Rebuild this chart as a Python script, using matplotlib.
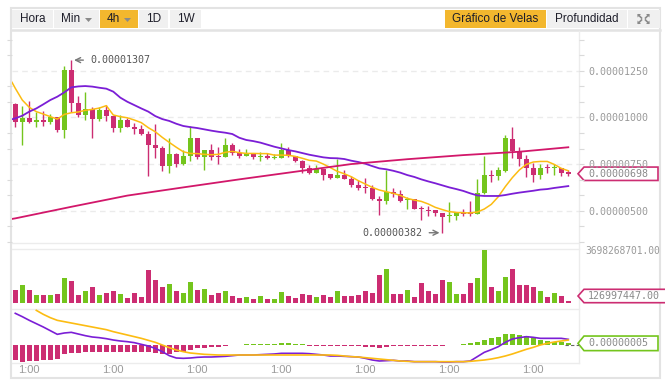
import matplotlib
matplotlib.use("Agg")
import matplotlib.pyplot as plt
from matplotlib.patches import Rectangle, Polygon
from matplotlib.ticker import FixedLocator, MultipleLocator, FuncFormatter
import numpy as np

plt.rcParams['font.family'] = ['Liberation Sans', 'DejaVu Sans']

# 4h candles, prices in units of 1e-8
opens = [1072, 977, 997, 977, 986, 977, 1002, 932, 1254, 1079,
         1013, 1045, 991, 1040, 1009, 945, 986, 950, 940, 909,
         852, 836, 741, 804, 752, 793, 890, 790, 825, 795,
         790, 852, 811, 793, 809, 790, 793, 782, 784, 825,
         793, 768, 731, 704, 723, 697, 675, 691, 672, 639,
         627, 620, 563, 550, 598, 589, 557, 563, 514, 504,
         504, 489, 472, 473, 489, 491, 484, 593, 691, 686,
         714, 884, 818, 777, 731, 691, 734, 727, 731, 707]
highs = [1079, 1061, 1088, 1031, 1034, 1016, 1002, 1277, 1307, 1115,
         1136, 1056, 1054, 1066, 1009, 1011, 995, 972, 959, 927,
         965, 845, 889, 807, 825, 952, 890, 825, 857, 840,
         890, 863, 829, 831, 809, 814, 809, 804, 863, 841,
         793, 772, 743, 743, 723, 697, 777, 718, 688, 664,
         673, 638, 581, 718, 622, 611, 575, 563, 527, 527,
         504, 489, 547, 493, 507, 552, 668, 793, 718, 736,
         906, 947, 840, 797, 756, 748, 748, 748, 731, 718]
lows = [950, 852, 968, 947, 952, 965, 923, 891, 1027, 1000,
        986, 891, 982, 982, 923, 923, 947, 911, 904, 686,
        784, 714, 704, 736, 747, 766, 779, 720, 773, 752,
        790, 800, 784, 793, 779, 768, 779, 777, 784, 788,
        763, 704, 698, 704, 666, 672, 675, 668, 629, 611,
        597, 557, 479, 538, 575, 548, 511, 509, 452, 473,
        473, 382, 441, 450, 473, 473, 484, 589, 656, 664,
        707, 782, 738, 682, 656, 670, 704, 691, 688, 688]
closes = [977, 997, 977, 986, 977, 1002, 932, 1254, 1079, 1013,
          1045, 991, 1040, 1009, 945, 986, 950, 940, 909, 852,
          836, 741, 804, 752, 793, 890, 790, 825, 790, 790,
          852, 811, 793, 809, 790, 793, 782, 790, 825, 793,
          768, 731, 704, 723, 691, 675, 691, 672, 639, 623,
          620, 564, 550, 598, 589, 554, 563, 511, 507, 500,
          489, 468, 477, 493, 484, 484, 593, 689, 686, 718,
          889, 818, 777, 731, 691, 729, 729, 731, 704, 698]

# volume in millions
volume = [907, 1256, 907, 558, 558, 558, 628, 1745, 1535, 558,
          837, 1116, 558, 698, 837, 628, 349, 698, 419, 2303,
          1605, 1116, 1326, 837, 698, 1465, 907, 977, 558, 698,
          837, 488, 349, 419, 279, 488, 279, 279, 768, 488,
          349, 628, 558, 419, 558, 419, 837, 488, 488, 558,
          837, 698, 1954, 2373, 628, 628, 907, 419, 1396, 837,
          628, 1605, 1465, 628, 628, 1396, 1745, 3698.268701, 1116, 837,
          1814, 2373, 1256, 1256, 1116, 837, 419, 698, 488, 126.997447]

# moving averages; first value is where each line enters at the left edge
ma_fast = [1188, 1156, 1093, 1054, 1031, 1018, 1004, 991, 1016, 1025, 1029,
           1038, 1043, 1050, 1063, 1013, 1004, 998, 986, 972, 945,
           923, 893, 866, 840, 816, 807, 806, 802, 800, 802,
           813, 818, 811, 807, 807, 806, 806, 798, 798, 797,
           791, 781, 770, 766, 750, 731, 711, 698, 682, 661,
           643, 625, 611, 602, 593, 582, 566, 557, 550, 536,
           518, 506, 495, 491, 489, 488, 493, 509, 534, 575,
           629, 677, 718, 748, 761, 764, 764, 748, 727, 714]
ma_mid = [990, 995, 1009, 1031, 1048, 1070, 1093, 1111, 1134, 1161, 1166,
          1168, 1165, 1159, 1154, 1138, 1106, 1084, 1066, 1048, 1031,
          1007, 991, 981, 966, 954, 948, 943, 936, 929, 923,
          918, 911, 891, 879, 873, 865, 854, 843, 834, 825,
          818, 809, 800, 793, 786, 782, 781, 777, 768, 761,
          752, 739, 727, 722, 714, 704, 691, 681, 668, 657,
          647, 636, 625, 616, 606, 593, 582, 579, 579, 579,
          584, 591, 597, 602, 607, 613, 616, 622, 627, 632]
ma_slow_idx = [-0.47, 0, 8, 16, 24, 32, 40, 48, 56, 64, 72, 79]
ma_slow = [456, 459, 521, 581, 625, 668, 709, 750, 776, 798, 816, 840]

# MACD, units of 1e-8
macd_hist = [-45, -50, -48, -48, -46, -45, -42, -26, -24, -23,
             -22, -22, -22, -22, -22, -22, -22, -22, -22, -22,
             -25, -28, -26, -20, -20, -15, -10, -8, -7, -5,
             -2, -1, 1, 3, 3, 3, 3, 4, 6, 6,
             4, 3, -2, -2, -2, -2, -2, -3, -4, -4,
             -5, -7, -8, -5, -4, -4, -3, -3, -3, -2,
             -2, -2, -1, 1, 2, 5, 10, 15, 22, 25,
             33, 33, 31, 28, 20, 15, 12, 10, 8, 5]
dif = [95, 85, 74, 64, 54, 43, 32, 36, 38, 33,
       28, 24, 22, 19, 15, 12, 10, 7, 2, -3,
       -10, -20, -32, -39, -40, -39, -37, -36, -36, -35,
       -34, -32, -30, -30, -30, -29, -28, -27, -25, -25,
       -25, -25, -26, -28, -30, -33, -33, -34, -35, -36,
       -40, -45, -48, -47, -46, -48, -48, -50, -50, -50,
       -50, -51, -51, -50, -50, -48, -35, -22, -14, -5,
       8, 18, 22, 25, 23, 20, 20, 20, 20, 17]
dea_start = 3
dea = [104, 92, 82, 74, 70, 66, 62, 58, 54, 50,
       46, 40, 35, 30, 25, 20, 14, 8, 0, -8,
       -15, -20, -24, -26, -28, -29, -30, -30, -30, -30,
       -30, -30, -30, -30, -30, -30, -30, -30, -30, -30,
       -30, -30, -30, -31, -33, -35, -36, -38, -40, -42,
       -44, -46, -48, -49, -50, -50, -50, -50, -50, -50,
       -50, -50, -49, -47, -45, -42, -38, -33, -27, -20,
       -13, -7, 0, 5, 9, 12, 15]

time_labels = ["1:00"] * 7
time_label_idx = [2, 14, 26, 38, 50, 62, 74]

GREEN = "#74c51d"
RED = "#cc2d72"
YELLOW = "#fcbc12"
PURPLE = "#7b1ed6"
PINK = "#d2176a"
GRID = "#ebebeb"
FRAME = "#e3e3e3"
LABEL = "#9a9a9a"
ORANGE = "#f3b72e"
BTN = "#f0f0f0"

W, H = 665, 383
fig = plt.figure(figsize=(W / 100, H / 100), dpi=100)
bg = fig.add_axes([0, 0, 1, 1])
bg.set_xlim(0, W)
bg.set_ylim(H, 0)
bg.axis('off')

XL = (-0.47, 80.53)


def panel(x0, y0, x1, y1):
    a = fig.add_axes([x0 / W, 1 - y1 / H, (x1 - x0) / W, (y1 - y0) / H])
    a.patch.set_alpha(0)
    for s in a.spines.values():
        s.set_visible(False)
    a.set_xlim(*XL)
    a.tick_params(axis='x', length=0, labelbottom=False)
    a.tick_params(axis='y', left=False, labelleft=False)
    return a


ax = panel(12, 31, 579, 243)
axv = panel(12, 249, 579, 309)
axm = panel(12, 309, 579, 363)

o = np.array(opens, float)
c = np.array(closes, float)
x = np.arange(len(o))
cols = np.where(c >= o, GREEN, RED)

# main candle chart
ax.set_ylim(327, 1463)
ax.vlines(x, lows, highs, colors=cols, lw=1.0, zorder=2)
ax.bar(x, np.maximum(np.abs(c - o), 5), bottom=np.minimum(o, c), width=0.68,
       color=cols, lw=0, zorder=3)
x_ma = np.concatenate([[XL[0]], x])
ax.plot(x_ma, ma_fast, color=YELLOW, lw=1.1, zorder=4)
ax.plot(x_ma, ma_mid, color=PURPLE, lw=1.3, zorder=4)
ax.plot(ma_slow_idx, ma_slow, color=PINK, lw=1.3, zorder=4)

ax.yaxis.set_major_locator(FixedLocator([500, 750, 1000, 1250]))
ax.yaxis.set_minor_locator(MultipleLocator(250 / 3))
ax.yaxis.set_major_formatter(FuncFormatter(lambda v, _: f"{v * 1e-8:.8f}"))
ax.tick_params(axis='y', which='both', right=True, labelright=True, length=3.6,
               color="#dadada", width=0.8, pad=2.9, labelsize=7.2,
               labelcolor=LABEL, labelfontfamily='DejaVu Sans Mono')
ax.grid(axis='y', which='major', color=GRID, linestyle=(0, (4, 3)), lw=1.0, zorder=0)

imax = int(np.argmax(highs))
imin = int(np.argmin(lows))
arrow = dict(arrowstyle='->', color="#777777", lw=1.0, shrinkA=3, shrinkB=2,
             mutation_scale=9)
ax.annotate(f"{highs[imax] * 1e-8:.8f}", xy=(imax, highs[imax]), xytext=(19, 0),
            textcoords='offset pixels', ha='left', va='center', fontsize=7.2,
            family='DejaVu Sans Mono', color="#555555", arrowprops=arrow)
ax.annotate(f"{lows[imin] * 1e-8:.8f}", xy=(imin, lows[imin]), xytext=(-20, 0),
            textcoords='offset pixels', ha='right', va='center', fontsize=7.2,
            family='DejaVu Sans Mono', color="#555555", arrowprops=arrow)

# volume
axv.set_ylim(-419, 3768)
axv.bar(x, volume, width=0.68, color=cols, lw=0)

# MACD
axm.set_ylim(-54, 108)
hist = np.array(macd_hist, float)
axm.bar(x, hist, width=0.68, color=np.where(hist >= 0, GREEN, RED), lw=0)
axm.plot(x, dif, color=PURPLE, lw=1.2)
axm.plot(np.arange(dea_start, dea_start + len(dea)), dea, color=YELLOW, lw=1.2)
axm.plot([x[-1] - 0.5, XL[1]], [0, 0], color="#666666", lw=0.8, ls=(0, (3, 2)))
axm.set_xticks(time_label_idx)
axm.set_xticklabels(time_labels)
axm.tick_params(axis='x', labelbottom=True, pad=1.5, labelsize=8, labelcolor=LABEL)

# frame and panel separators
bg.add_patch(Rectangle((11, 8), 649, 370, fill=False, ec=FRAME, lw=1.5))
bg.plot([11, 660], [30, 30], color=FRAME, lw=1.8)
bg.plot([579, 579], [31, 363], color="#ececec", lw=1.0)
for yy in [243, 249, 309, 363]:
    bg.plot([12, 579], [yy, yy], color="#ececec", lw=1.0)

# toolbar buttons
buttons = [("Hora", 12, 53, BTN, False), ("Min", 54, 99, BTN, True),
           ("4h", 100, 138, ORANGE, True), ("1D", 139, 168, BTN, False),
           ("1W", 170, 201, BTN, False), ("Gráfico de Velas", 445, 546, ORANGE, False),
           ("Profundidad", 547, 627, BTN, False), ("", 628, 660, BTN, False)]
for label, bx0, bx1, fc, drop in buttons:
    bg.add_patch(Rectangle((bx0, 10), bx1 - bx0, 18, fc=fc, ec='none'))
    tx = (bx0 + bx1) / 2 - (6 if drop else 0)
    bg.text(tx, 19.5, label, ha='center', va='center', fontsize=8.5, color="#1e1e2a")
    if drop:
        bg.add_patch(Polygon([[bx1 - 14, 18], [bx1 - 7, 18], [bx1 - 10.5, 22]],
                             closed=True, fc="#8a8a8a", ec='none'))

# expand icon
cx, cy = 643.5, 19
for sx in (-1, 1):
    for sy in (-1, 1):
        px, py = cx + sx * 6, cy + sy * 5
        bg.add_patch(Polygon([[px, py], [px - sx * 3.5, py], [px, py - sy * 3.5]],
                             closed=True, fc="#8a8a8a", ec='none'))
        bg.plot([px - sx * 1, px - sx * 4], [py - sy * 1, py - sy * 4], color="#8a8a8a", lw=1.2)


def ypix(a, v):
    return H - a.transData.transform((0, v))[1]


def tag(yc, text, color, right=658, half=6.7):
    bg.add_patch(Polygon([[578, yc], [584, yc - half], [right, yc - half],
                          [right, yc + half], [584, yc + half]],
                         closed=True, fc='white', ec=color, lw=1.2, zorder=5))
    bg.text(588, yc, text, ha='left', va='center', fontsize=7.2, family='DejaVu Sans Mono',
            color="#8a8a8a", zorder=6)


tag(ypix(ax, closes[-1]), f"{closes[-1] * 1e-8:.8f}", RED)
tag(min(ypix(axv, volume[-1]), 296), f"{volume[-1] * 1e6:.2f}", RED, right=700)
tag(ypix(axm, macd_hist[-1]), f"{macd_hist[-1] * 1e-8:.8f}", GREEN, half=7.3)
bg.text(585, ypix(axv, max(volume)) + 1, f"{max(volume) * 1e6:.2f}", ha='left', va='center',
        fontsize=6.9, family='DejaVu Sans Mono', color=LABEL)

fig.savefig("out.png", dpi=100)
